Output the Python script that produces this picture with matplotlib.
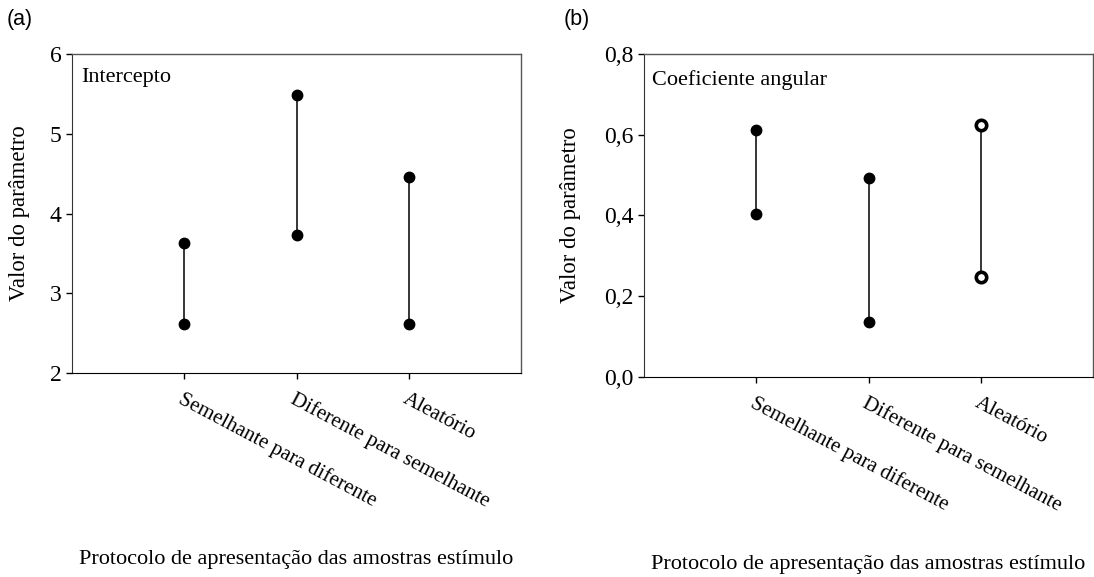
import matplotlib
matplotlib.use("Agg")
import matplotlib.pyplot as plt
from matplotlib.ticker import FuncFormatter

# protocolos de apresentacao (eixo x)
protocolos = ["Semelhante para diferente", "Diferente para semelhante", "Aleatório"]
posicoes = [1, 2, 3]

# limites (inferior, superior) de cada parametro
intercepto_inf = [2.62, 3.73, 2.62]
intercepto_sup = [3.63, 5.49, 4.46]
coef_inf = [0.404, 0.135, 0.248]
coef_sup = [0.611, 0.494, 0.623]

serif = ["Liberation Serif", "DejaVu Serif"]
plt.rcParams["font.family"] = serif

fig = plt.figure(figsize=(10.94, 5.77), dpi=100)
ax1 = fig.add_axes([72 / 1094, 204 / 577, 449 / 1094, 319 / 577])
ax2 = fig.add_axes([644 / 1094, 200 / 577, 449 / 1094, 323 / 577])


def desenha(ax, inf, sup, abertos=()):
    for i, (x, a, b) in enumerate(zip(posicoes, inf, sup)):
        ax.plot([x, x], [a, b], color="black", lw=1.1, zorder=2)
        if i in abertos:
            ax.plot([x, x], [a, b], "o", ms=7.5, mfc="white", mec="black",
                    mew=2.6, ls="none", zorder=3)
        else:
            ax.plot([x, x], [a, b], "o", ms=7.5, color="black", ls="none", zorder=3)
    ax.set_xlim(0, 4)
    ax.set_xticks(posicoes)
    ax.tick_params(direction="out", length=4, width=1, top=False, right=False)
    ax.tick_params(axis="y", labelsize=17)
    ax.tick_params(axis="x", labelsize=15.2, pad=8)
    ax.set_xticklabels(protocolos, rotation=-28, ha="left", va="top",
                       rotation_mode="anchor")
    for s in ["top", "right"]:
        ax.spines[s].set_color("#555555")
        ax.spines[s].set_linewidth(1.0)
    ax.spines["left"].set_color("#333333")
    ax.spines["bottom"].set_color("black")
    ax.set_ylabel("Valor do parâmetro", fontsize=16.4)
    ax.set_xlabel("Protocolo de apresentação das amostras estímulo", fontsize=16)


desenha(ax1, intercepto_inf, intercepto_sup)
ax1.set_ylim(2, 6)
ax1.set_yticks([2, 3, 4, 5, 6])
ax1.text(0.02, 0.925, "Intercepto", transform=ax1.transAxes, fontsize=16,
         va="center", ha="left")
ax1.yaxis.set_label_coords(-0.0935, 0.5)
ax1.xaxis.set_label_coords(0.5, -0.555)

desenha(ax2, coef_inf, coef_sup, abertos=(2,))
ax2.set_ylim(0, 0.8)
ax2.set_yticks([0, 0.2, 0.4, 0.6, 0.8])
ax2.yaxis.set_major_formatter(FuncFormatter(lambda v, p: f"{v:.1f}".replace(".", ",")))
ax2.text(0.018, 0.92, "Coeficiente angular", transform=ax2.transAxes, fontsize=16,
         va="center", ha="left")
ax2.yaxis.set_label_coords(-0.140, 0.5)
ax2.xaxis.set_label_coords(0.5, -0.55)

sans = ["Liberation Sans", "DejaVu Sans"]
fig.text(7 / 1094, 1 - 20 / 577, "(a)", family=sans, fontsize=15.5, va="center")
fig.text(564 / 1094, 1 - 20 / 577, "(b)", family=sans, fontsize=15.5, va="center")

fig.savefig("out.png", dpi=100)
